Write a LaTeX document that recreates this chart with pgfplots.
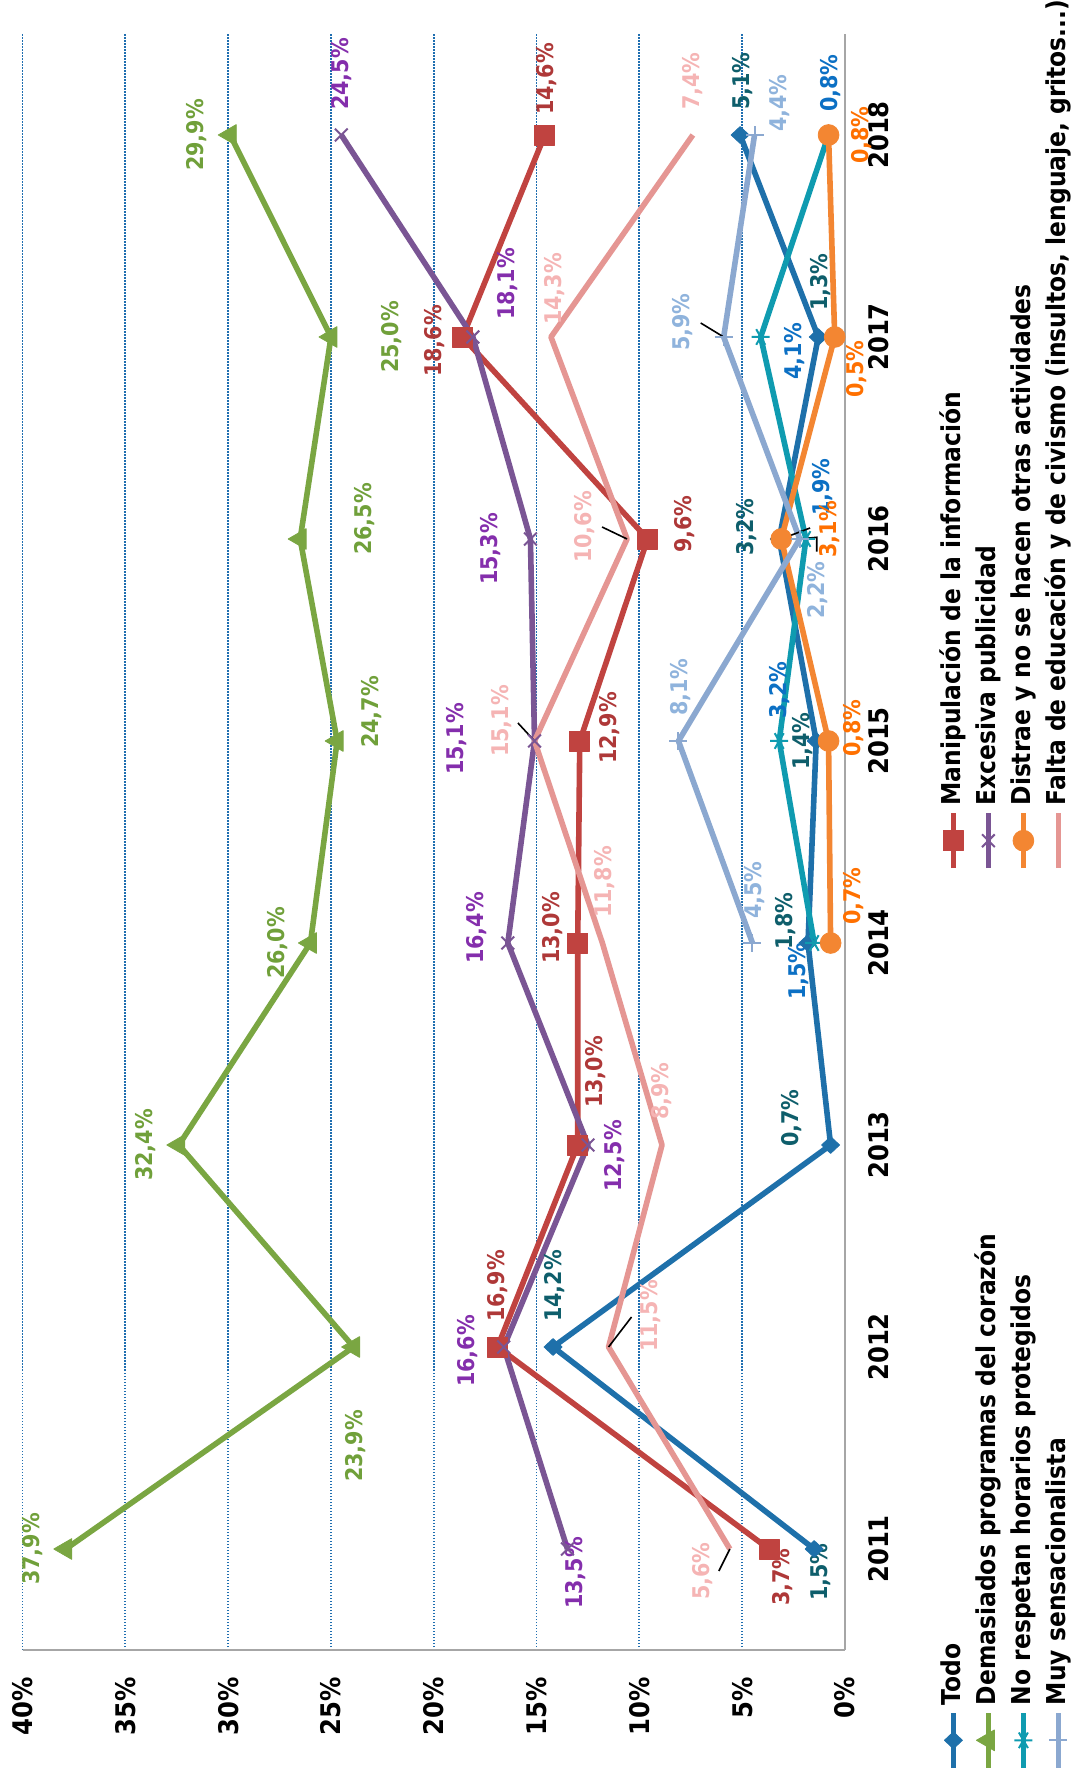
\documentclass[border=0pt]{standalone}
\usepackage{fontspec}
\setmainfont{DejaVu Sans}[FakeStretch=0.9]
\usepackage{pgfplots}
\pgfplotsset{compat=1.18}

% series colours
\definecolor{cTodo}{RGB}{30,112,170}
\definecolor{cCor}{RGB}{122,166,66}
\definecolor{cHor}{RGB}{15,155,176}
\definecolor{cSen}{RGB}{139,168,208}
\definecolor{cMan}{RGB}{192,67,64}
\definecolor{cPub}{RGB}{122,85,148}
\definecolor{cDis}{RGB}{243,134,50}
\definecolor{cEdu}{RGB}{229,150,147}
% data label colours
\definecolor{lTodo}{RGB}{14,94,107}
\definecolor{lCor}{RGB}{112,160,58}
\definecolor{lHor}{RGB}{12,112,196}
\definecolor{lSen}{RGB}{143,179,220}
\definecolor{lMan}{RGB}{174,56,56}
\definecolor{lPub}{RGB}{132,46,172}
\definecolor{lDis}{RGB}{255,112,0}
\definecolor{lEdu}{RGB}{245,180,180}
\definecolor{gridc}{RGB}{31,110,176}

% value label: year, value, x offset, y offset (pt), colour, text
\newcommand{\lab}[6]{\node[text=#5,font=\bfseries\fontsize{11.5}{13}\selectfont,inner sep=0pt,xshift=#3pt,yshift=#4pt] at (axis cs:#1,#2) {#6\%};}
% short leader line from a point
\newcommand{\lead}[3]{\draw[black,line width=0.8pt] (axis cs:#1,#2) -- ++(#3);}

\begin{document}
\begin{tikzpicture}[rotate=90,transform shape]
\useasboundingbox (-62pt,-114.5pt) rectangle (825pt,422.5pt);
\begin{axis}[
  at={(0pt,0pt)}, anchor=south west,
  scale only axis, width=808pt, height=411.2pt,
  xmin=2010.5, xmax=2018.5, ymin=0, ymax=40,
  clip=false,
  axis lines*=left,
  axis line style={draw=black!35, line width=1pt, -},
  major tick length=0pt,
  xtick={2011,2012,2013,2014,2015,2016,2017,2018},
  xticklabels={2011,2012,2013,2014,2015,2016,2017,2018},
  ytick={0,5,10,15,20,25,30,35,40},
  yticklabels={0\%,5\%,10\%,15\%,20\%,25\%,30\%,35\%,40\%},
  ticklabel style={font=\bfseries\fontsize{13.5}{15}\selectfont, inner sep=0pt},
  xticklabel style={yshift=-11.5pt},
  yticklabel style={xshift=-13.5pt},
  ymajorgrids,
  major grid style={gridc, line width=0.9pt, dash pattern=on 0.75pt off 0.75pt},
  legend columns=2,
  legend cell align=left,
  legend style={draw=none, fill=none, at={(-0.07488,-0.1131)}, anchor=north west,
    font=\bfseries\fontsize{13}{15}\selectfont, inner sep=0pt, row sep=2.5pt, column sep=1.5pt,
    nodes={inner sep=1pt, text height=10pt, text depth=3pt}},
  legend image code/.code={\draw[mark repeat=2,mark phase=2] plot coordinates {(0pt,0pt) (13.75pt,0pt) (27.5pt,0pt)};},
  every axis plot/.append style={line width=2.8pt, line join=round},
]

\addplot[cTodo, mark=diamond*, mark size=4.5pt, mark options={solid, xscale=1.25, line width=0.4pt}]
  coordinates {(2011,1.5) (2012,14.2) (2013,0.7) (2014,1.8) (2015,1.4) (2016,3.2) (2017,1.3) (2018,5.1)};
\addlegendentry{\makebox[414.5pt][l]{Todo}}

\addplot[cMan, mark=square*, mark size=5pt, mark options={solid, line width=0.4pt}]
  coordinates {(2011,3.7) (2012,16.9) (2013,13.0) (2014,13.0) (2015,12.9) (2016,9.6) (2017,18.6) (2018,14.6)};
\addlegendentry{Manipulación de la información}

\addplot[cCor, mark=triangle*, mark size=6pt, mark options={solid, line width=0.4pt}]
  coordinates {(2011,37.9) (2012,23.9) (2013,32.4) (2014,26.0) (2015,24.7) (2016,26.5) (2017,25.0) (2018,29.9)};
\addlegendentry{\makebox[414.5pt][l]{Demasiados programas del corazón}}

\addplot[cPub, mark=x, mark size=4.5pt, mark options={solid, line width=1pt}]
  coordinates {(2011,13.5) (2012,16.6) (2013,12.5) (2014,16.4) (2015,15.1) (2016,15.3) (2017,18.1) (2018,24.5)};
\addlegendentry{Excesiva publicidad}

\addplot[cHor, mark=asterisk, mark size=4.5pt, mark options={solid, line width=1pt}]
  coordinates {(2014,1.5) (2015,3.2) (2016,1.9) (2017,4.1) (2018,0.8)};
\addlegendentry{\makebox[414.5pt][l]{No respetan horarios protegidos}}

\addplot[cDis, mark=*, mark size=5.2pt, mark options={solid, line width=0.4pt}]
  coordinates {(2014,0.7) (2015,0.8) (2016,3.1) (2017,0.5) (2018,0.8)};
\addlegendentry{Distrae y no se hacen otras actividades}

\addplot[cSen, mark=+, mark size=4.5pt, mark options={solid, line width=1pt}]
  coordinates {(2014,4.5) (2015,8.1) (2016,2.2) (2017,5.9) (2018,4.4)};
\addlegendentry{\makebox[414.5pt][l]{Muy sensacionalista}}

\addplot[cEdu, mark=none]
  coordinates {(2011,5.6) (2012,11.5) (2013,8.9) (2014,11.8) (2015,15.1) (2016,10.6) (2017,14.3) (2018,7.4)};
\addlegendentry{Falta de educación y de civismo (insultos, lenguaje, gritos...)}

% leader lines
\lead{2011}{5.6}{-11pt,5.5pt}
\lead{2012}{11.5}{15pt,-11.5pt}
\lead{2015}{15.1}{9pt,8.3pt}
\lead{2016}{10.6}{6pt,12.5pt}
\lead{2017}{5.9}{7pt,11.5pt}
\lead{2016}{3.1}{5.5pt,-14.4pt}
\draw[black,line width=0.8pt] (axis cs:2016,2.2) -- ++(0.85pt,-8.5pt) -- ++(-7.2pt,0pt);

% Demasiados programas del corazón
\lab{2011}{37.9}{0}{16.5}{lCor}{37,9}
\lab{2012}{23.9}{-49.5}{-1.2}{lCor}{23,9}
\lab{2013}{32.4}{0}{16.5}{lCor}{32,4}
\lab{2014}{26.0}{0}{16.5}{lCor}{26,0}
\lab{2015}{24.7}{14.5}{-17}{lCor}{24,7}
\lab{2016}{26.5}{10}{-32.4}{lCor}{26,5}
\lab{2017}{25.0}{0}{-30.5}{lCor}{25,0}
\lab{2018}{29.9}{0}{16.7}{lCor}{29,9}
% Manipulación de la información
\lab{2011}{3.7}{-14}{-7}{lMan}{3,7}
\lab{2012}{16.9}{30.5}{0}{lMan}{16,9}
\lab{2013}{13.0}{36.5}{-9}{lMan}{13,0}
\lab{2014}{13.0}{7.5}{12.8}{lMan}{13,0}
\lab{2015}{12.9}{6.5}{-15}{lMan}{12,9}
\lab{2016}{9.6}{7.5}{-18.7}{lMan}{9,6}
\lab{2017}{18.6}{-2}{13.8}{lMan}{18,6}
\lab{2018}{14.6}{28}{-1}{lMan}{14,6}
% Excesiva publicidad
\lab{2011}{13.5}{-12}{-4.3}{lPub}{13,5}
\lab{2012}{16.6}{-2}{18.3}{lPub}{16,6}
\lab{2013}{12.5}{-5.5}{-13.5}{lPub}{12,5}
\lab{2014}{16.4}{7.5}{15.4}{lPub}{16,4}
\lab{2015}{15.1}{1}{39}{lPub}{15,1}
\lab{2016}{15.3}{-5}{19.7}{lPub}{15,3}
\lab{2017}{18.1}{26.5}{-17.5}{lPub}{18,1}
\lab{2018}{24.5}{30.5}{0}{lPub}{24,5}
% Falta de educación y de civismo
\lab{2011}{5.6}{-11}{13.4}{lEdu}{5,6}
\lab{2012}{11.5}{15.5}{-21.2}{lEdu}{11,5}
\lab{2013}{8.9}{27}{0}{lEdu}{8,9}
\lab{2014}{11.8}{30.5}{-1}{lEdu}{11,8}
\lab{2015}{15.1}{10}{16.3}{lEdu}{15,1}
\lab{2016}{10.6}{6}{21}{lEdu}{10,6}
\lab{2017}{14.3}{24}{-2}{lEdu}{14,3}
\lab{2018}{7.4}{27}{0}{lEdu}{7,4}
% Todo
\lab{2011}{1.5}{-11.5}{-3}{lTodo}{1,5}
\lab{2012}{14.2}{30.5}{-1}{lTodo}{14,2}
\lab{2013}{0.7}{13.5}{19.3}{lTodo}{0,7}
\lab{2014}{1.8}{11}{11}{lTodo}{1,8}
\lab{2015}{1.4}{0}{6.6}{lTodo}{1,4}
\lab{2016}{3.2}{6}{16.5}{lTodo}{3,2}
\lab{2017}{1.3}{27.5}{-1}{lTodo}{1,3}
\lab{2018}{5.1}{27}{-1}{lTodo}{5,1}
% No respetan horarios protegidos
\lab{2014}{1.5}{-14}{8}{lHor}{1,5}
\lab{2015}{3.2}{25.5}{0}{lHor}{3,2}
\lab{2016}{1.9}{26}{-8.5}{lHor}{1,9}
\lab{2017}{4.1}{-7}{-17}{lHor}{4,1}
\lab{2018}{0.8}{26}{-1}{lHor}{0,8}
% Distrae y no se hacen otras actividades
\lab{2014}{0.7}{23.5}{-11.7}{lDis}{0,7}
\lab{2015}{0.8}{6.5}{-12.7}{lDis}{0,8}
\lab{2016}{3.1}{5}{-24.4}{lDis}{3,1}
\lab{2017}{0.5}{-16}{-10.7}{lDis}{0,5}
\lab{2018}{0.8}{0}{-16.7}{lDis}{0,8}
% Muy sensacionalista
\lab{2014}{4.5}{26.5}{-1}{lSen}{4,5}
\lab{2015}{8.1}{27}{-1}{lSen}{8,1}
\lab{2016}{2.2}{-25.5}{-9}{lSen}{2,2}
\lab{2017}{5.9}{7.5}{20.3}{lSen}{5,9}
\lab{2018}{4.4}{16}{-12.7}{lSen}{4,4}
\end{axis}
\end{tikzpicture}
\end{document}
